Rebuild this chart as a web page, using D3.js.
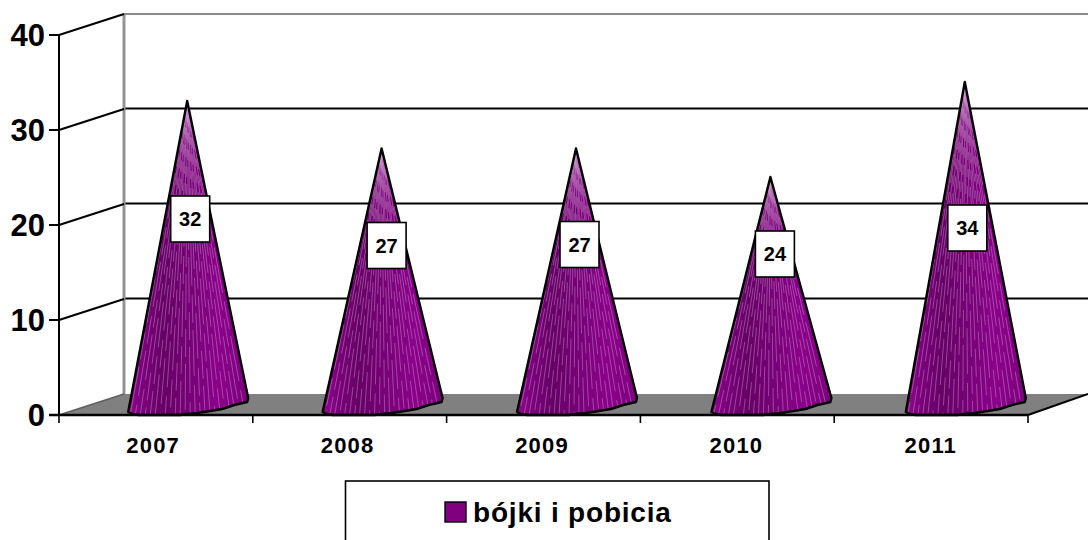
<!DOCTYPE html>
<html><head><meta charset="utf-8">
<style>html,body{margin:0;padding:0;background:#fff;overflow:hidden}svg{display:block}text{font-family:"Liberation Sans",Arial,sans-serif;font-weight:bold;fill:#000}</style>
<script src="https://cdn.jsdelivr.net/npm/d3@7/dist/d3.min.js"></script>
</head><body><svg id="c" width="1088" height="540"></svg>
<script>
const categories = ["2007","2008","2009","2010","2011"];
const values = [32,27,27,24,34];
const yTicks = [0,10,20,30,40];
const seriesName = "bójki i pobicia";
// layout only: label box nudges measured from each cone's apex
const labelDx = [3,5,3.5,4.5,2.5];
const labelDy = [118,97,96,77,146];

const W=1088,H=540, depthX=65, depthY=21, purple="#800080";
const svg=d3.select("#c");
const x=d3.scaleBand().domain(categories).range([59,1028]);      // front axis ticks
const xCone=d3.scaleBand().domain(categories).range([91,1063]);  // cone plane, set back in depth
const xLabel=d3.scaleBand().domain(categories).range([56,1028]); // tick label centres
const y=d3.scaleLinear().domain([0,40]).range([415,35]);
const cone=v=>y(v)-10;              // cone plane sits 10px behind the front edge
const cx=c=>xCone(c)+xCone.bandwidth()/2;

const defs=svg.append("defs");
const g=defs.append("linearGradient").attr("id","coneFill");
[[0,"#8c0a8c"],[.12,"#7c007c"],[.3,"#660066"],[.55,"#7a007a"],[.75,"#8a008a"],[1,"#7d007d"]]
 .forEach(([o,c])=>g.append("stop").attr("offset",o).attr("stop-color",c));

// floor and walls
svg.append("path").attr("fill","#808080")
  .attr("d",d3.line()([[x.range()[0],y(0)],[x.range()[0]+depthX,y(0)-depthY],[W,y(0)-depthY],[x.range()[1],y(0)]]));
yTicks.slice(1,4).forEach(t=>svg.append("line").attr("x1",59+depthX).attr("x2",W)
  .attr("y1",y(t)-depthY-.5).attr("y2",y(t)-depthY-.5).attr("stroke","#000").attr("stroke-width",2));
svg.append("line").attr("x1",59+depthX).attr("x2",W).attr("y1",y(40)-depthY).attr("y2",y(40)-depthY).attr("stroke","#8a8a8a").attr("stroke-width",2);
svg.append("line").attr("x1",59+depthX).attr("x2",59+depthX).attr("y1",y(40)-depthY).attr("y2",y(0)-depthY).attr("stroke","#949494").attr("stroke-width",3);

// side wall diagonals and y axis
yTicks.forEach(t=>{
  svg.append("line").attr("x1",59).attr("y1",y(t)).attr("x2",59+depthX).attr("y2",y(t)-depthY)
    .attr("stroke",t===0?"#606060":"#000").attr("stroke-width",t===0?1.5:2);
  svg.append("line").attr("x1",49).attr("x2",59).attr("y1",y(t)).attr("y2",y(t)).attr("stroke","#000").attr("stroke-width",2);
  svg.append("text").attr("x",45).attr("y",y(t)+11).attr("text-anchor","end").attr("font-size",31).text(t);
});
svg.append("line").attr("x1",59).attr("x2",59).attr("y1",y(40)).attr("y2",y(0)).attr("stroke","#000").attr("stroke-width",2);
svg.append("line").attr("x1",x.range()[1]).attr("y1",y(0)).attr("x2",W).attr("y2",y(0)-depthY).attr("stroke","#000").attr("stroke-width",2);

// cones
const rimOff=[[-60,-3],[-56,-1],[-50,0],[-8,0],[-2,-1],[9,-2],[22,-4],[34,-6],[46,-10],[59,-13],[60,-17]];
const rim=d3.line().curve(d3.curveLinear);
categories.forEach((c,i)=>{
  const ax=cx(c)-1, ay=cone(values[i]), bx=cx(c), by=y(0);
  const pts=rimOff.map(([dx,dy])=>[bx+dx,by+dy]);
  const d="M"+ax+","+ay+"L"+rim(pts).slice(1)+"Z";
  const G=svg.append("g");
  G.append("path").attr("d",d).attr("fill","url(#coneFill)");
  const clip="cl"+i;
  defs.append("clipPath").attr("id",clip).append("path").attr("d",d);
  const st=G.append("g").attr("clip-path","url(#"+clip+")");
  d3.range(-58,59,5).forEach((dx,k)=>{
    st.append("line").attr("x1",ax).attr("y1",ay).attr("x2",bx+dx).attr("y2",by)
      .attr("stroke","#d9a6d9").attr("stroke-opacity",.42).attr("stroke-width",1)
      .attr("stroke-dasharray","46 9 28 7").attr("stroke-dashoffset",k*17);
  });
  G.append("path").attr("d",d).attr("fill","none").attr("stroke","#000").attr("stroke-width",2.4).attr("stroke-linejoin","round");
});

// x axis
svg.append("line").attr("x1",49).attr("x2",x.range()[1]).attr("y1",y(0)).attr("y2",y(0)).attr("stroke","#000").attr("stroke-width",2.4);
[...categories.map(c=>x(c)),x.range()[1]].forEach(t=>svg.append("line").attr("x1",t).attr("x2",t).attr("y1",y(0)).attr("y2",y(0)+8).attr("stroke","#000").attr("stroke-width",1.6));
categories.forEach(c=>svg.append("text").attr("x",xLabel(c)+xLabel.bandwidth()/2).attr("y",453).attr("text-anchor","middle")
  .attr("font-size",22).attr("letter-spacing",1.2).text(c));

// data labels
categories.forEach((c,i)=>{
  const lx=cx(c)-1+labelDx[i], ly=cone(values[i])+labelDy[i];
  svg.append("rect").attr("x",lx-19.5).attr("y",ly-23).attr("width",39).attr("height",46)
    .attr("fill","#fff").attr("stroke","#000").attr("stroke-width",1.6);
  svg.append("text").attr("x",lx).attr("y",ly+7).attr("text-anchor","middle").attr("font-size",20).text(values[i]);
});

// legend
svg.append("rect").attr("x",345.5).attr("y",481).attr("width",423.5).attr("height",70).attr("fill","#fff").attr("stroke","#000").attr("stroke-width",1.6);
svg.append("rect").attr("x",445).attr("y",502).attr("width",21).attr("height",20).attr("fill",purple).attr("stroke","#000").attr("stroke-width",1.4);
svg.append("text").attr("x",473).attr("y",522).attr("font-size",28).attr("letter-spacing",0.8).text(seriesName);
</script></body></html>
